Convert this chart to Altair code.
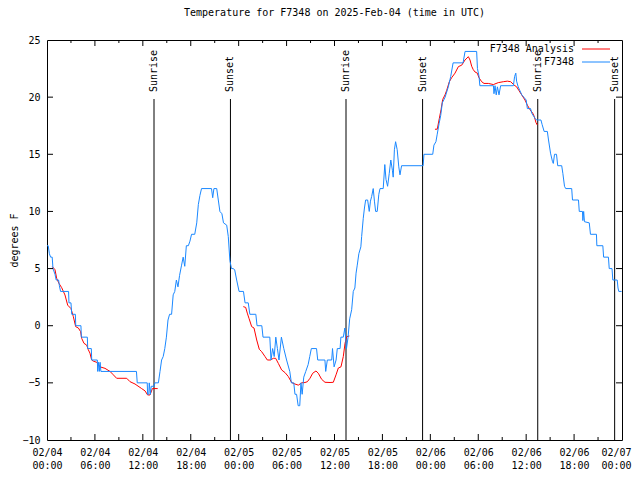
import json
import altair as alt
import pandas as pd

# ---------------- data ----------------
blue_h = [0.0, 0.15, 0.3, 0.45, 0.65, 0.75, 1.0, 1.15, 1.45, 1.55, 1.7, 2.7, 2.75, 3.0, 3.1, 3.55, 3.6, 4.25, 4.3,
          5.05, 5.1, 5.55, 5.6, 6.3, 6.35, 6.45, 6.55, 6.65, 6.75, 11.2, 11.3, 12.55, 12.6, 12.75, 12.8, 12.95,
          13.05, 13.4, 13.5, 13.95,
          14.15, 14.35, 14.55, 14.75, 14.95, 15.15, 15.35, 15.6, 15.8, 16.0, 16.2, 16.4, 16.6, 16.85, 17.05, 17.25,
          17.45, 17.7, 17.9, 18.1, 18.5, 18.75, 18.95, 19.15, 19.35, 20.6, 20.75, 20.9, 21.25, 21.45, 21.65, 21.9,
          22.1, 22.5, 22.7, 22.9, 23.1, 23.3, 23.5, 23.75, 24.05, 24.6, 24.8, 25.2, 25.4, 26.15, 26.3, 26.9, 27.05,
          27.9, 28.05, 28.25, 28.45, 28.65, 28.85, 29.05, 29.35, 29.65, 30.0, 30.4, 30.6, 30.9, 31.05, 31.25, 31.45,
          31.65, 31.8, 31.95, 32.15, 32.4, 32.7, 32.9, 33.1, 33.75, 33.9, 34.8, 34.9, 35.1, 35.65, 35.75, 35.95,
          36.2, 36.35, 36.7, 36.8, 37.1, 37.3, 37.5, 37.7, 37.9, 38.15, 38.35, 38.55, 38.7, 38.85, 39.05, 39.3,
          39.4, 39.6, 39.75, 39.9, 40.15, 40.35, 40.5, 40.65, 40.85, 41.0, 41.15, 41.35, 41.55, 41.7, 42.1, 42.3,
          42.45, 42.65, 42.85, 43.05, 43.25, 43.35, 43.5, 43.65, 43.85, 44.05, 44.2, 44.4, 47.1, 47.2, 48.3, 48.45,
          48.7, 48.85, 49.1, 49.3, 49.5, 49.85, 50.25, 50.55, 50.85, 52.1, 52.35, 53.8, 53.9, 54.1, 54.2, 55.9,
          55.97, 56.1, 56.25, 56.4, 56.6, 56.8, 58.4, 58.55, 58.7, 58.8, 59.0, 59.45, 59.7, 60.0, 60.15, 60.55,
          60.7, 61.1, 61.3, 61.85, 62.0, 62.25, 62.65, 62.8, 63.05, 63.3, 63.4, 63.55, 63.8, 63.95, 64.45, 64.6,
          64.8, 64.95, 65.7, 65.8, 66.55, 66.65, 67.05, 67.1, 67.2, 67.3, 67.9, 68.05, 68.8, 68.85, 69.6, 69.7,
          70.3, 70.4, 70.75, 70.85, 71.4, 71.5, 71.6, 71.95]
blue_v = [7, 7, 6.3, 6, 6, 5, 4.5, 4, 4, 3.5, 3, 3, 2, 2, 1, 1, 0, 0, -1,
          -1, -2, -2, -3, -3, -4, -3.2, -4, -3.2, -4, -4, -5, -5, -6, -6, -5, -6,
          -5.3, -5.3, -5, -5,
          -4, -3, -2.7, -2, -1, 0.5, 1, 1, 2.7, 3, 4, 3.4, 4.4, 5.3, 6, 5.2,
          7, 7, 7.4, 8, 8, 9, 10.6, 11.4, 12, 12, 11.2, 12, 12, 11, 10, 9.8,
          9, 8.8, 7.8, 5.7, 5, 5, 4.9, 4, 3, 3, 2, 2, 1, 1, 0, 0, -1,
          -1, -3, -2, -2.7, -1, -2, -3, -1, -2, -3, -4, -5, -5, -6, -6, -7,
          -7, -5, -6, -4.5, -4, -3.4, -2.7, -2, -2, -3, -3, -4, -3, -3, -2, -3.6,
          -3, -2, -2, -1, -1, -0.2, -2, -1, 0.6, 1.4, 3, 3.3, 4.6, 5.3, 6.3, 6.9,
          7.8, 9.4, 10.3, 11, 11, 10, 10.9, 11.3, 12, 10.9, 10, 10, 11.5, 12, 12, 14.1,
          12.8, 12.2, 13.3, 14.5, 13.6, 13, 15.4, 16.1, 15.4, 13.9, 13.2, 14, 14, 15, 15, 15.8,
          16.1, 16.7, 17.7, 18.4, 19.5, 20, 20.9, 21.8, 23, 23, 24, 24, 22.5, 21.8, 21, 21,
          20.3, 21, 20.2, 20.9, 20.2, 21, 21, 21.8, 22.1, 21.4, 20.9, 20.2, 20, 19.75, 19, 19,
          18.6, 18.15, 18, 18, 17.6, 17, 17, 16.25, 15.1, 14.35, 14.2, 15, 15, 14, 14, 13.3,
          12.2, 12, 12, 11, 11, 10, 10, 9.2, 10, 9.1, 9, 8, 8, 7, 7, 6,
          6, 5, 5, 4, 4, 3.3, 3, 3]

red_a_h = [0.67, 1.0, 1.21, 1.5, 1.84, 2.05, 2.25, 2.59, 3.0, 3.3, 3.59, 3.93, 4.21, 4.34, 4.63, 4.97, 5.17, 5.38,
           5.59, 5.8, 6.22, 6.64, 7.26, 7.89, 8.31, 8.72, 9.98, 10.4, 11.02, 11.85, 12.27, 12.6, 12.9, 13.2, 13.52,
           13.86]
red_a_v = [5.17, 4.9, 4.15, 3.7, 3.33, 3.0, 2.69, 1.8, 1.5, 0.79, -0.08, -0.2, -0.52, -1.1, -1.54, -1.7, -2.1, -2.4,
           -3.0, -3.1, -3.2, -3.6, -3.73, -4.0, -4.3, -4.6, -4.6, -4.9, -5.1, -5.5, -5.7, -6.06, -6.06, -5.5, -5.5,
           -5.5]
red_b_h = [24.58, 24.88, 25.08, 25.29, 25.63, 25.92, 26.26, 26.58, 26.88, 27.3, 27.59, 28.01, 28.34, 28.63, 28.97,
           29.38, 29.8, 30.22, 30.64, 31.05, 31.47, 31.89, 32.3, 32.6, 32.93, 33.27, 33.68, 33.97, 34.39, 34.81,
           35.44, 35.85, 36.19, 36.48, 36.81, 37.1, 37.32, 37.53, 37.86]
red_b_v = [1.67, 1.6, 1.1, 0.65, -0.08, -0.2, -1.25, -2.06, -2.27, -2.7, -3.0, -3.0, -2.85, -2.85, -3.3, -3.87, -4.1,
           -4.45, -4.98, -5.1, -5.2, -5.0, -4.97, -4.9, -4.6, -4.16, -3.96, -4.16, -4.69, -4.95, -4.97, -4.95, -4.3,
           -3.7, -3.6, -2.7, -1.54, -0.96, -0.9]
red_c_h = [48.58, 48.87, 49.13, 49.34, 49.55, 49.84, 50.05, 50.38, 50.67, 51.09, 51.51, 51.93, 52.34, 52.76, 52.97,
           53.18, 53.38, 53.6, 53.88, 54.09, 54.43, 54.72, 55.26, 55.89, 56.51, 57.14, 57.64, 58.06, 58.48, 58.81,
           59.1, 59.44, 59.85, 60.15, 60.48, 60.82, 61.02, 61.23, 61.4]
red_c_v = [17.19, 17.2, 18.15, 18.9, 19.8, 20.2, 20.6, 21.35, 21.7, 22.1, 22.67, 22.8, 23.25, 23.54, 23.25, 22.7,
           22.4, 22.2, 22.1, 21.7, 21.35, 21.2, 21.2, 21.1, 21.27, 21.35, 21.4, 21.35, 21.06, 20.9, 20.57, 20.2,
           19.75, 19.3, 18.9, 18.6, 18.3, 17.77, 17.56]

sun_names = ["Sunrise", "Sunset", "Sunrise", "Sunset", "Sunrise", "Sunset"]
sun_h = [13.4, 22.97, 37.44, 47.03, 61.45, 71.08]

x_tick_h = [0, 6, 12, 18, 24, 30, 36, 42, 48, 54, 60, 66, 72]
x_minor_h = [3, 9, 15, 21, 27, 33, 39, 45, 51, 57, 63, 69]
x_tick_date = ["02/04", "02/04", "02/04", "02/04", "02/05", "02/05", "02/05", "02/05",
               "02/06", "02/06", "02/06", "02/06", "02/07"]
x_tick_time = ["00:00", "06:00", "12:00", "18:00", "00:00", "06:00", "12:00", "18:00",
               "00:00", "06:00", "12:00", "18:00", "00:00"]
y_ticks = [-10, -5, 0, 5, 10, 15, 20, 25]

series_names = ["F7348 Analysis", "F7348"]
series_colors = ["#ff0000", "#1a88ff"]
title_text = "Temperature for F7348 on 2025-Feb-04 (time in UTC)"
y_title = "degrees F"

# ---------------- chart ----------------
FONT = "DejaVu Sans Mono"
xs = alt.Scale(domain=[0, 72], nice=False, zero=False)
ys = alt.Scale(domain=[-10, 25], nice=False, zero=False)

label_pairs = [[d, t] for d, t in zip(x_tick_date, x_tick_time)]
x_axis = alt.Axis(values=x_tick_h, labelExpr=f"{json.dumps(label_pairs)}[round(datum.value/6)]",
                  title=None, grid=False, ticks=False, tickSize=0, domain=False,
                  labelFont=FONT, labelFontSize=10, labelColor="black", labelPadding=7,
                  labelLineHeight=13, labelFlush=False, labelOverlap=False,
                  labelOffset=alt.condition("datum.value >= 72", alt.value(-6), alt.value(0)))
y_axis = alt.Axis(values=y_ticks, title=y_title, grid=False, ticks=False, tickSize=0, domain=False,
                  labelFont=FONT, labelFontSize=10, labelColor="black", labelPadding=7,
                  labelOverlap=False,
                  titleFont=FONT, titleFontSize=10, titleFontWeight="normal", titleColor="black",
                  titleX=-33, titleY=200, titleAngle=270, titleAlign="center", titleBaseline="middle")


def X(field):
    return alt.X(field, scale=xs, axis=x_axis)


def Y(field):
    return alt.Y(field, scale=ys, axis=y_axis)


def XD(val):
    return alt.XDatum(val, scale=xs, axis=x_axis)


def YD(val):
    return alt.YDatum(val, scale=ys, axis=y_axis)


blue_df = pd.DataFrame({"h": blue_h, "v": blue_v})
red_df = pd.concat([
    pd.DataFrame({"h": red_a_h, "v": red_a_v, "seg": "a"}),
    pd.DataFrame({"h": red_b_h, "v": red_b_v, "seg": "b"}),
    pd.DataFrame({"h": red_c_h, "v": red_c_v, "seg": "c"}),
])
sun_df = pd.DataFrame({"h": sun_h, "name": sun_names})

blue = alt.Chart(blue_df).mark_line(color=series_colors[1], strokeWidth=1).encode(
    x=X("h:Q"), y=Y("v:Q"))
red = alt.Chart(red_df).mark_line(color=series_colors[0], strokeWidth=1).encode(
    x=X("h:Q"), y=Y("v:Q"), detail="seg:N")
sun_lines = alt.Chart(sun_df).mark_rule(color="black", strokeWidth=1).encode(
    x=X("h:Q"), y=alt.value(400), y2=alt.value(59))
sun_text = alt.Chart(sun_df).mark_text(angle=270, align="left", baseline="middle",
                                       font=FONT, fontSize=10, color="black").encode(
    x=X("h:Q"), y=alt.value(52), text="name:N")

# inward tick marks (gnuplot style)
xt_major = pd.DataFrame({"h": x_tick_h[1:-1]})
xt_minor = pd.DataFrame({"h": x_minor_h})
yt = pd.DataFrame({"v": y_ticks[1:-1]})


def xticks(df, length):
    bot = alt.Chart(df).mark_rule(color="black", y2Offset=-length).encode(
        x=X("h:Q"), y=YD(-10), y2=alt.Y2Datum(-10))
    top = alt.Chart(df).mark_rule(color="black", y2Offset=length).encode(
        x=X("h:Q"), y=YD(25), y2=alt.Y2Datum(25))
    return [bot, top]


yt_left = alt.Chart(yt).mark_rule(color="black", x2Offset=6).encode(
    y=Y("v:Q"), x=XD(0), x2=alt.X2Datum(0))
yt_right = alt.Chart(yt).mark_rule(color="black", x2Offset=-6).encode(
    y=Y("v:Q"), x=XD(72), x2=alt.X2Datum(72))

# legend (text right, line sample on the right, gnuplot style)
leg_layers = []
for i, (nm, col) in enumerate(zip(series_names, series_colors)):
    yy = 8.5 + 13 * i
    leg_layers.append(
        alt.Chart(pd.DataFrame({"t": [nm]})).mark_text(
            align="right", baseline="middle", font=FONT, fontSize=10, color="black").encode(
            text="t:N", x=alt.value(527), y=alt.value(yy)))
    leg_layers.append(
        alt.Chart(pd.DataFrame({"t": [nm]})).mark_rule(color=col, strokeWidth=1).encode(
            x=alt.value(535), x2=alt.value(563), y=alt.value(yy + 0.5)))

chart = alt.layer(
    sun_lines, sun_text, red, blue,
    *xticks(xt_major, 6), *xticks(xt_minor, 3), yt_left, yt_right,
    *leg_layers,
).properties(
    width=575, height=400,
    title=alt.Title(title_text, font=FONT, fontSize=10, fontWeight="normal", color="black",
                    anchor="middle", frame="group", offset=17),
    autosize=alt.AutoSizeParams(type="none"),
    padding={"left": 39, "top": 32, "right": 10, "bottom": 32},
    background="white",
).configure_view(stroke="black", strokeWidth=1)

chart.save("out.html", embed_options={"renderer": "svg", "actions": False})
